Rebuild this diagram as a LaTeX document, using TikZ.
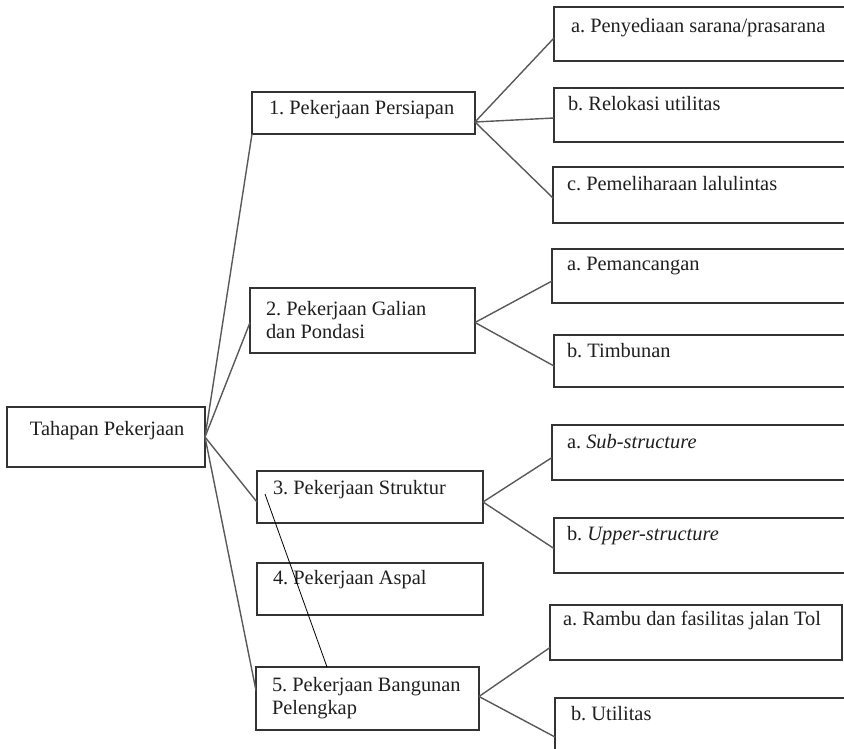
\documentclass[tikz,border=0pt]{standalone}
\usepackage{fontspec}
\setmainfont{Liberation Serif}
\frenchspacing
\begin{document}
\begin{tikzpicture}[x=1pt,y=-1pt,
  boxst/.style={draw=black!80, line width=1.3pt, fill=none, inner sep=0pt, outer sep=0pt, anchor=north west},
  txt/.style={inner sep=0pt, outer sep=0pt, anchor=base west, align=left, text=black!88,
              font=\fontsize{20.4}{23}\selectfont},
  conn/.style={draw=black!65, line width=1.4pt},
  thin/.style={draw=black, line width=0.8pt}]
\clip (0,0) rectangle (844,748);
\fill[white] (0,0) rectangle (844,748);
% level 0
\node[boxst, minimum width=198pt, minimum height=60pt] (root) at (7,407) {};
% level 1
\node[boxst, minimum width=223pt, minimum height=42pt] (b1) at (252,92) {};
\node[boxst, minimum width=225pt, minimum height=65pt] (b2) at (250,288) {};
\node[boxst, minimum width=226pt, minimum height=52pt] (b3) at (257,471) {};
\node[boxst, minimum width=226pt, minimum height=52pt] (b4) at (257,563) {};
\node[boxst, minimum width=223pt, minimum height=63pt] (b5) at (256,667) {};
% level 2
\node[boxst, minimum width=306pt, minimum height=54pt] (c1a) at (554,7) {};
\node[boxst, minimum width=306pt, minimum height=54pt] (c1b) at (554,88) {};
\node[boxst, minimum width=307pt, minimum height=56pt] (c1c) at (553,167) {};
\node[boxst, minimum width=308pt, minimum height=54pt] (c2a) at (552,249) {};
\node[boxst, minimum width=306pt, minimum height=52pt] (c2b) at (554,335) {};
\node[boxst, minimum width=308pt, minimum height=55pt] (c3a) at (552,425) {};
\node[boxst, minimum width=306pt, minimum height=55pt] (c3b) at (554,518) {};
\node[boxst, minimum width=292pt, minimum height=55pt] (c5a) at (550,605) {};
\node[boxst, minimum width=305pt, minimum height=62pt] (c5b) at (555,698) {};
% texts
\node[txt] (troot) at ([shift={(23,28)}]root.north west) {Tahapan Pekerjaan};
\node[txt] (tb1) at ([shift={(17,22)}]b1.north west) {1. Pekerjaan Persiapan};
\node[txt] (tb2) at ([shift={(16,50)}]b2.north west) {2. Pekerjaan Galian\\dan Pondasi};
\node[txt] (tb3) at ([shift={(16,23)}]b3.north west) {3. Pekerjaan Struktur};
\node[txt] (tb4) at ([shift={(16,21)}]b4.north west) {4. Pekerjaan Aspal};
\node[txt] (tb5) at ([shift={(16,47)}]b5.north west) {5. Pekerjaan Bangunan\\Pelengkap};
\node[txt] (tc1a) at ([shift={(17,25)}]c1a.north west) {a. Penyediaan sarana/prasarana};
\node[txt] (tc1b) at ([shift={(14,22)}]c1b.north west) {b. Relokasi utilitas};
\node[txt] (tc1c) at ([shift={(14,23)}]c1c.north west) {c. Pemeliharaan lalulintas};
\node[txt] (tc2a) at ([shift={(15,21)}]c2a.north west) {a. Pemancangan};
\node[txt] (tc2b) at ([shift={(13,22)}]c2b.north west) {b. Timbunan};
\node[txt] (tc3a) at ([shift={(15,23)}]c3a.north west) {a. \textit{Sub-structure}};
\node[txt] (tc3b) at ([shift={(13,22)}]c3b.north west) {b. \textit{Upper-structure}};
\node[txt] (tc5a) at ([shift={(13,20)}]c5a.north west) {a. Rambu dan fasilitas jalan Tol};
\node[txt] (tc5b) at ([shift={(16,22)}]c5b.north west) {b. Utilitas};
% connectors level 0 -> 1
\draw[conn] (root.east) -- (b1.south west);
\draw[conn] (root.east) -- ([shift={(0,2)}]b2.west);
\draw[conn] (root.east) -- ([shift={(0,5)}]b3.west);
\draw[conn] (root.east) -- ([shift={(0,-8)}]b5.west);
% connectors level 1 -> 2
\draw[conn] ([shift={(0,9)}]b1.east) -- ([shift={(0,4)}]c1a.west);
\draw[conn] ([shift={(0,9)}]b1.east) -- ([shift={(0,3)}]c1b.west);
\draw[conn] ([shift={(0,9)}]b1.east) -- ([shift={(0,3)}]c1c.west);
\draw[conn] ([shift={(0,2)}]b2.east) -- ([shift={(0,5)}]c2a.west);
\draw[conn] ([shift={(0,2)}]b2.east) -- ([shift={(0,5)}]c2b.west);
\draw[conn] ([shift={(0,5)}]b3.east) -- ([shift={(0,5)}]c3a.west);
\draw[conn] ([shift={(0,5)}]b3.east) -- ([shift={(0,3)}]c3b.west);
\draw[conn] ([shift={(0,-2)}]b5.east) -- ([shift={(0,15)}]c5a.west);
\draw[conn] ([shift={(0,-2)}]b5.east) -- ([shift={(0,8)}]c5b.west);
% thin stray line
\coordinate (s1) at (265,494);
\coordinate (s2) at ([shift={(71,0)}]b5.north west);
\draw[thin] (s1) -- (s2);
\end{tikzpicture}
\end{document}
